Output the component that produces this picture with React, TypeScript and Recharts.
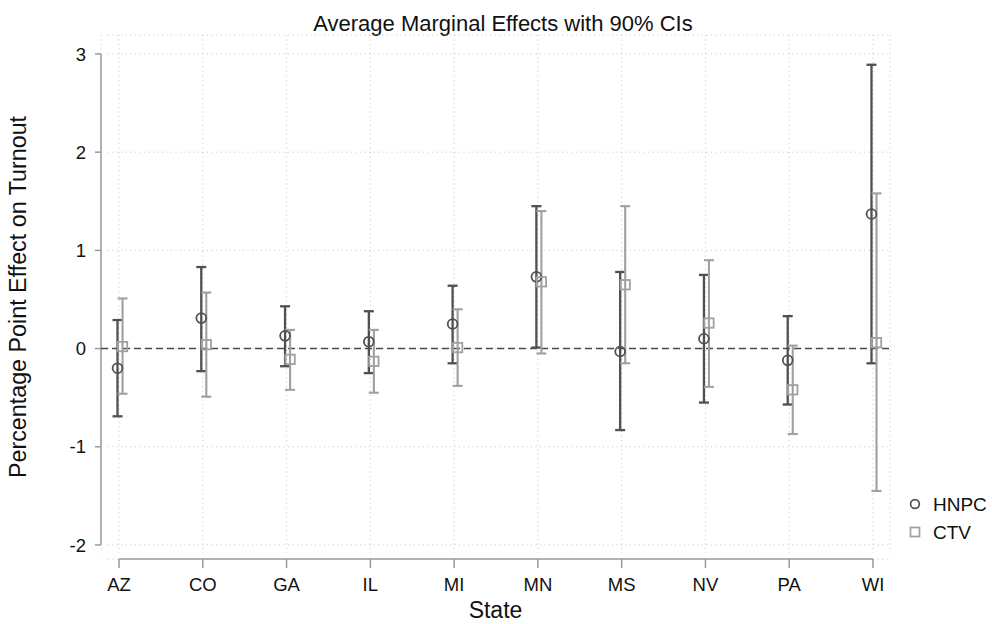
import React from 'react';
import {
  ComposedChart,
  Scatter,
  XAxis,
  YAxis,
  CartesianGrid,
  ErrorBar,
  ReferenceLine,
  Legend,
} from 'recharts';

// ---------- data ----------
const states = ['AZ', 'CO', 'GA', 'IL', 'MI', 'MN', 'MS', 'NV', 'PA', 'WI'];

const hnpcEst = [-0.2, 0.31, 0.13, 0.07, 0.25, 0.73, -0.03, 0.1, -0.12, 1.37];
const hnpcLo = [-0.69, -0.23, -0.18, -0.25, -0.15, 0.01, -0.83, -0.55, -0.57, -0.15];
const hnpcHi = [0.29, 0.83, 0.43, 0.38, 0.64, 1.45, 0.78, 0.75, 0.33, 2.89];

const ctvEst = [0.02, 0.04, -0.11, -0.13, 0.01, 0.68, 0.65, 0.26, -0.42, 0.06];
const ctvLo = [-0.46, -0.49, -0.42, -0.45, -0.38, -0.05, -0.15, -0.39, -0.87, -1.45];
const ctvHi = [0.51, 0.57, 0.19, 0.19, 0.4, 1.4, 1.45, 0.9, 0.03, 1.58];

const yTicks = [-2, -1, 0, 1, 2, 3];
const seriesNames = ['HNPC', 'CTV'];

// ---------- layout / style ----------
const FONT = '"Liberation Sans", Arial, Helvetica, sans-serif';
const HNPC_COLOR = '#505050';
const CTV_COLOR = '#a0a0a0';
const AXIS_COLOR = '#9a9a9a';

const X_DOMAIN: [number, number] = [-0.215, 9.203];
const Y_DOMAIN: [number, number] = [-2.143, 3.193];
const HNPC_SHIFT = 0.018; // dodge (axis shift)
const CTV_SHIFT = -0.042;

const buildSeries = (est: number[], lo: number[], hi: number[]) =>
  states.map((s, i) => ({
    idx: i,
    state: s,
    value: est[i],
    err: [est[i] - lo[i], hi[i] - est[i]],
  }));

const hnpcData = buildSeries(hnpcEst, hnpcLo, hnpcHi);
const ctvData = buildSeries(ctvEst, ctvLo, ctvHi);
const xTicks = states.map((_, i) => i);

const CircleShape = (props: any) => {
  const { cx, cy } = props;
  if (cx == null || cy == null) return null;
  return <circle cx={cx} cy={cy} r={4.9} fill="none" stroke={HNPC_COLOR} strokeWidth={1.8} />;
};

const SquareShape = (props: any) => {
  const { cx, cy } = props;
  if (cx == null || cy == null) return null;
  const s = 9.4;
  return (
    <rect x={cx - s / 2} y={cy - s / 2} width={s} height={s} fill="none" stroke={CTV_COLOR} strokeWidth={1.8} />
  );
};

const renderLegend = () => (
  <svg width={92} height={62} style={{ display: 'block' }}>
    <circle cx={15} cy={16} r={4.4} fill="none" stroke={HNPC_COLOR} strokeWidth={1.7} />
    <text x={33} y={22.5} fontSize={19} fill="#111" fontFamily={FONT}>
      {seriesNames[0]}
    </text>
    <rect x={10.5} y={39.5} width={9} height={9} fill="none" stroke={CTV_COLOR} strokeWidth={1.7} />
    <text x={33} y={50.5} fontSize={19} fill="#111" fontFamily={FONT}>
      {seriesNames[1]}
    </text>
  </svg>
);

const YLabel = (props: any) => {
  const vb = props.viewBox || {};
  const x = (vb.x ?? 0) + 26;
  const y = (vb.y ?? 0) + (vb.height ?? 0) / 2;
  return (
    <text x={x} y={y} transform={`rotate(-90, ${x}, ${y})`} textAnchor="middle" fontSize={23.3} fill="#111" fontFamily={FONT}>
      Percentage Point Effect on Turnout
    </text>
  );
};

const XLabel = (props: any) => {
  const vb = props.viewBox || {};
  const x = (vb.x ?? 0) + (vb.width ?? 0) / 2;
  const y = (vb.y ?? 0) + 59;
  return (
    <text x={x} y={y} textAnchor="middle" fontSize={23} fill="#111" fontFamily={FONT}>
      State
    </text>
  );
};

export default function App() {
  return (
    <div style={{ position: 'absolute', left: 0, top: 0, width: 992, height: 624, background: '#fff', fontFamily: FONT }}>
      <svg width={992} height={44} style={{ position: 'absolute', left: 0, top: 0 }}>
        <text x={503} y={31} textAnchor="middle" fontSize={22} fill="#111" fontFamily={FONT}>
          Average Marginal Effects with 90% CIs
        </text>
      </svg>
      <ComposedChart
        width={992}
        height={624}
        margin={{ top: 35, right: 102, bottom: 0, left: 0 }}
        style={{ fontFamily: FONT }}
      >
        <CartesianGrid xAxisId="base" x={108} y={35} width={782} height={518} stroke="#c4c4c4" strokeDasharray="1 3.5" />
        <XAxis
          xAxisId="base"
          type="number"
          dataKey="idx"
          domain={X_DOMAIN}
          allowDataOverflow
          ticks={xTicks}
          interval={0}
          tickFormatter={(v: number) => states[v] ?? ''}
          axisLine={false}
          tickSize={9}
          tickMargin={10}
          tickLine={{ stroke: AXIS_COLOR, strokeWidth: 1.5 }}
          tick={{ fill: '#111', fontSize: 18.5 }}
          height={65}
          label={<XLabel />}
        />
        <XAxis
          xAxisId="h"
          type="number"
          dataKey="idx"
          domain={[X_DOMAIN[0] + HNPC_SHIFT, X_DOMAIN[1] + HNPC_SHIFT]}
          allowDataOverflow
          hide
        />
        <XAxis
          xAxisId="c"
          type="number"
          dataKey="idx"
          domain={[X_DOMAIN[0] + CTV_SHIFT, X_DOMAIN[1] + CTV_SHIFT]}
          allowDataOverflow
          hide
        />
        <YAxis
          type="number"
          domain={Y_DOMAIN}
          allowDataOverflow
          ticks={yTicks}
          interval={0}
          axisLine={false}
          tickSize={6}
          tickMargin={9}
          tickLine={{ stroke: AXIS_COLOR, strokeWidth: 1.5 }}
          tick={{ fill: '#111', fontSize: 18.5 }}
          width={101}
          label={<YLabel />}
        />
        {/* y axis line over the tick range */}
        <ReferenceLine
          xAxisId="base"
          segment={[
            { x: X_DOMAIN[0], y: yTicks[0] },
            { x: X_DOMAIN[0], y: yTicks[yTicks.length - 1] },
          ]}
          stroke={AXIS_COLOR}
          strokeWidth={1.5}
          ifOverflow="visible"
        />
        {/* x axis line over the category range */}
        <ReferenceLine
          xAxisId="base"
          segment={[
            { x: 0, y: Y_DOMAIN[0] },
            { x: states.length - 1, y: Y_DOMAIN[0] },
          ]}
          stroke={AXIS_COLOR}
          strokeWidth={1.5}
          ifOverflow="visible"
        />
        <ReferenceLine xAxisId="base" y={0} stroke="#4a4a4a" strokeWidth={1.4} strokeDasharray="7 4" />
        <Scatter
          name={seriesNames[0]}
          data={hnpcData}
          xAxisId="h"
          dataKey="value"
          shape={CircleShape}
          isAnimationActive={false}
        >
          <ErrorBar dataKey="err" direction="y" width={5} stroke={HNPC_COLOR} strokeWidth={2.3} isAnimationActive={false} />
        </Scatter>
        <Scatter
          name={seriesNames[1]}
          data={ctvData}
          xAxisId="c"
          dataKey="value"
          shape={SquareShape}
          isAnimationActive={false}
        >
          <ErrorBar dataKey="err" direction="y" width={5} stroke={CTV_COLOR} strokeWidth={2.1} isAnimationActive={false} />
        </Scatter>
        <Legend
          layout="horizontal"
          verticalAlign="middle"
          align="center"
          content={renderLegend}
          wrapperStyle={{ position: 'absolute', left: 900, top: 488, width: 92, height: 62 }}
        />
      </ComposedChart>
    </div>
  );
}
